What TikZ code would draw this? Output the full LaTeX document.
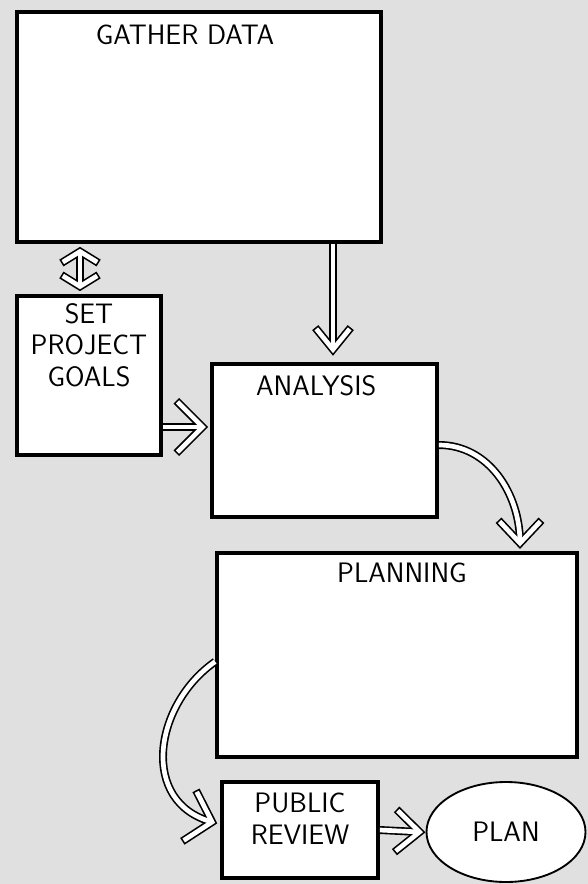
\documentclass[tikz,border=0pt]{standalone}
\usepackage{tikz}
\usetikzlibrary{positioning,decorations.markings,shapes}
\tikzstyle{blk}=[draw, fill=white, line width=3.2pt]
\tikzstyle{hd}=[font=\sffamily\fontsize{24}{27}\selectfont, inner sep=0pt, anchor=north, align=center]
\tikzset{tipsize/.code 2 args={\def\tl{#1}\def\tw{#2}}, tipsize={16pt}{13pt}}
% hollow pipe with an outlined chevron at the end
\tikzstyle{pipe}=[line width=6.8pt, line cap=butt,
  postaction={decorate, decoration={markings, mark=at position -0.02pt with
    {\draw[black, line width=6.8pt, line cap=rect] (-\tl,\tw) -- (0,0) -- (-\tl,-\tw);}}},
  postaction={draw, white, line width=4pt},
  postaction={decorate, decoration={markings, mark=at position -0.02pt with
    {\draw[white, line width=4pt, line cap=rect] (-\tl,\tw) -- (0,0) -- (-\tl,-\tw);}}}]
\tikzstyle{pipe2}=[line width=6.8pt, line cap=butt,
  postaction={decorate, decoration={markings, mark=at position 0 with
    {\draw[black, line width=6.8pt, line cap=rect] (\tl,\tw) -- (0,0) -- (\tl,-\tw);},
    mark=at position -0.02pt with
    {\draw[black, line width=6.8pt, line cap=rect] (-\tl,\tw) -- (0,0) -- (-\tl,-\tw);}}},
  postaction={draw, white, line width=4pt},
  postaction={decorate, decoration={markings, mark=at position 0 with
    {\draw[white, line width=4pt, line cap=rect] (\tl,\tw) -- (0,0) -- (\tl,-\tw);},
    mark=at position -0.02pt with
    {\draw[white, line width=4pt, line cap=rect] (-\tl,\tw) -- (0,0) -- (-\tl,-\tw);}}}]
\begin{document}
\begin{tikzpicture}[node distance=2cm,auto]
\fill[black!12] (-5.97,3.81) rectangle (11.67,-22.71);

\node[blk, minimum width=10.92cm, minimum height=6.9cm,
  label={[hd, yshift=-0.45cm, xshift=-0.42cm]north:GATHER DATA}] at (0,0) (gather) {};

\node[blk, below of = gather, node distance = 7.455cm, xshift=-3.3cm,
  minimum width=4.32cm, minimum height=4.77cm,
  label={[hd, yshift=-0.27cm]north:SET\\PROJECT\\GOALS}] (goals) {};

\node[blk, right of = goals, node distance = 7.065cm, yshift=-1.95cm,
  minimum width=6.75cm, minimum height=4.59cm,
  label={[hd, yshift=-0.39cm, xshift=-0.25cm]north:ANALYSIS}] (analysis) {};

\node[blk, below of = analysis, node distance = 6.435cm, xshift=2.175cm,
  minimum width=10.8cm, minimum height=6.12cm,
  label={[hd, yshift=-0.36cm, xshift=0.15cm]north:PLANNING}] (planning) {};

\node[blk, below of = planning, node distance = 5.25cm, xshift=-2.91cm,
  minimum width=4.68cm, minimum height=2.88cm,
  label={[hd, yshift=-0.39cm]north:PUBLIC\\REVIEW}] (review) {};

\node[draw, ellipse, fill=white, line width=1.6pt, right of = review, node distance = 6.18cm,
  yshift=-0.06cm, minimum width=4.77cm, minimum height=3cm,
  font=\sffamily\fontsize{24}{27}\selectfont] (plan) {PLAN};

% connectors
\draw[pipe2, tipsize={8pt}{13pt}]
  ([xshift=-3.57cm, yshift=-0.23cm]gather.south) -- ([xshift=-0.27cm, yshift=0.23cm]goals.north);
\draw[pipe] ([xshift=4.02cm]gather.south) -- ([xshift=0.255cm, yshift=0.38cm]analysis.north);
\draw[pipe, tipsize={20pt}{20pt}]
  ([yshift=-1.545cm]goals.east) -- ([yshift=0.405cm, xshift=-0.225cm]analysis.west);
\draw[pipe, tipsize={17pt}{16pt}]
  ([yshift=-0.135cm]analysis.east) to[out=0, in=90] ([xshift=3.69cm, yshift=0.24cm]planning.north);
\draw[pipe, tipsize={18pt}{20pt}]
  ([yshift=-0.2cm]planning.west) to[out=215, in=165, looseness=1.2] ([yshift=0.24cm, xshift=-0.24cm]review.west);
\draw[pipe, tipsize={18pt}{16pt}] (review.east) -- ([xshift=-0.18cm]plan.west);
\end{tikzpicture}
\end{document}
